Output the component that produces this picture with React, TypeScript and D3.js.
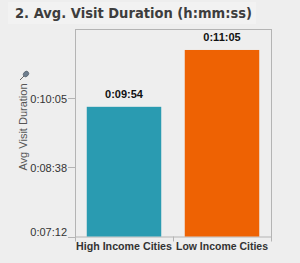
import React, { useEffect, useRef } from 'react';
import * as d3 from 'd3';

const categories = ['High Income Cities', 'Low Income Cities'];
const durations = [594, 665]; // seconds: 0:09:54, 0:11:05
const durationLabels = ['0:09:54', '0:11:05'];
const tickValues = [432, 518.4, 604.8];
const tickLabels = ['0:07:12', '0:08:38', '0:10:05'];
const barColors = ['#2a9bb1', '#ee6203'];

export default function App() {
  const svgRef = useRef<SVGSVGElement>(null);

  useEffect(() => {
    if (!svgRef.current) return;
    const svg = d3.select(svgRef.current);
    svg.selectAll('*').remove();

    const width = 300;
    const height = 263;
    const plot = { left: 75, right: 271, top: 29, bottom: 236.5 };

    svg.append('rect').attr('width', width).attr('height', height).attr('fill', '#eeeeee');
    svg.append('rect').attr('x', 8).attr('y', 2).attr('width', 248).attr('height', 22).attr('fill', '#f2f2f2');

    svg.append('text')
      .attr('x', 15)
      .attr('y', 18)
      .attr('font-family', 'DejaVu Sans, Verdana, sans-serif')
      .attr('font-weight', 'bold')
      .attr('font-size', 13.5)
      .attr('fill', '#3d3d3d')
      .attr('textLength', 237)
      .attr('lengthAdjust', 'spacingAndGlyphs')
      .text('2. Avg. Visit Duration (h:mm:ss)');

    const x = d3.scaleBand<string>()
      .domain(categories)
      .range([plot.left, plot.right])
      .paddingInner(0.24)
      .paddingOuter(0.12);

    const y = d3.scaleLinear()
      .domain([432, 691.2])
      .range([plot.bottom, plot.top]);

    // frame
    svg.append('rect')
      .attr('x', plot.left + 0.5)
      .attr('y', plot.top + 0.5)
      .attr('width', plot.right - plot.left)
      .attr('height', plot.bottom - plot.top)
      .attr('fill', 'none')
      .attr('stroke', '#b4b4b4');

    // y ticks
    const yAxis = svg.append('g').attr('font-family', 'Liberation Sans, Arial, sans-serif').attr('font-size', 11);
    tickValues.forEach((v, i) => {
      const ty = Math.round(y(v)) + 0.5;
      yAxis.append('line')
        .attr('x1', plot.left - 7).attr('x2', plot.left)
        .attr('y1', ty).attr('y2', ty)
        .attr('stroke', '#b4b4b4');
      yAxis.append('text')
        .attr('x', plot.left - 8)
        .attr('y', i === 0 ? ty - 2 : ty + 4)
        .attr('text-anchor', 'end')
        .attr('fill', '#333')
        .text(tickLabels[i]);
    });

    // y axis title + pin
    svg.append('text')
      .attr('transform', 'translate(27,127) rotate(-90)')
      .attr('text-anchor', 'middle')
      .attr('font-family', 'Liberation Sans, Arial, sans-serif')
      .attr('font-size', 11)
      .attr('fill', '#555')
      .text('Avg Visit Duration');
    const pin = svg.append('g').attr('transform', 'translate(25,75)');
    pin.append('line').attr('x1', 0).attr('y1', 0).attr('x2', -5).attr('y2', 5).attr('stroke', '#666').attr('stroke-width', 1);
    pin.append('ellipse').attr('cx', 1).attr('cy', -1).attr('rx', 3).attr('ry', 2.4)
      .attr('transform', 'rotate(-45 1 -1)').attr('fill', '#6f7f8f').attr('stroke', '#4a5560').attr('stroke-width', 0.6);

    // bars
    svg.selectAll('rect.bar')
      .data(durations)
      .enter()
      .append('rect')
      .attr('class', 'bar')
      .attr('x', (_, i) => x(categories[i]) || 0)
      .attr('y', d => y(d))
      .attr('width', x.bandwidth())
      .attr('height', d => plot.bottom - y(d))
      .attr('fill', (_, i) => barColors[i]);

    // bar value labels
    svg.selectAll('text.val')
      .data(durations)
      .enter()
      .append('text')
      .attr('class', 'val')
      .attr('x', (_, i) => (x(categories[i]) || 0) + x.bandwidth() / 2)
      .attr('y', d => y(d) - 9)
      .attr('text-anchor', 'middle')
      .attr('font-family', 'Liberation Sans, Arial, sans-serif')
      .attr('font-weight', 'bold')
      .attr('font-size', 11)
      .attr('fill', '#111')
      .text((_, i) => durationLabels[i]);

    // x divider ticks
    const mid = ((x(categories[0]) || 0) + x.bandwidth() + (x(categories[1]) || 0)) / 2;
    [plot.left, mid, plot.right].forEach(tx => {
      svg.append('line')
        .attr('x1', Math.round(tx) + 0.5).attr('x2', Math.round(tx) + 0.5)
        .attr('y1', plot.bottom).attr('y2', plot.bottom + 5)
        .attr('stroke', '#b4b4b4');
    });

    // x labels
    svg.selectAll('text.cat')
      .data(categories)
      .enter()
      .append('text')
      .attr('class', 'cat')
      .attr('x', d => (x(d) || 0) + x.bandwidth() / 2)
      .attr('y', 250)
      .attr('text-anchor', 'middle')
      .attr('font-family', 'Liberation Sans, Arial, sans-serif')
      .attr('font-weight', 'bold')
      .attr('font-size', 11)
      .attr('fill', '#333')
      .attr('textLength', (_, i) => (i === 0 ? 96 : 92))
      .attr('lengthAdjust', 'spacingAndGlyphs')
      .text(d => d);
  }, []);

  return (
    <div style={{ position: 'absolute', left: 0, top: 0 }}>
      <svg ref={svgRef} width={300} height={263} style={{ display: 'block' }} />
    </div>
  );
}
